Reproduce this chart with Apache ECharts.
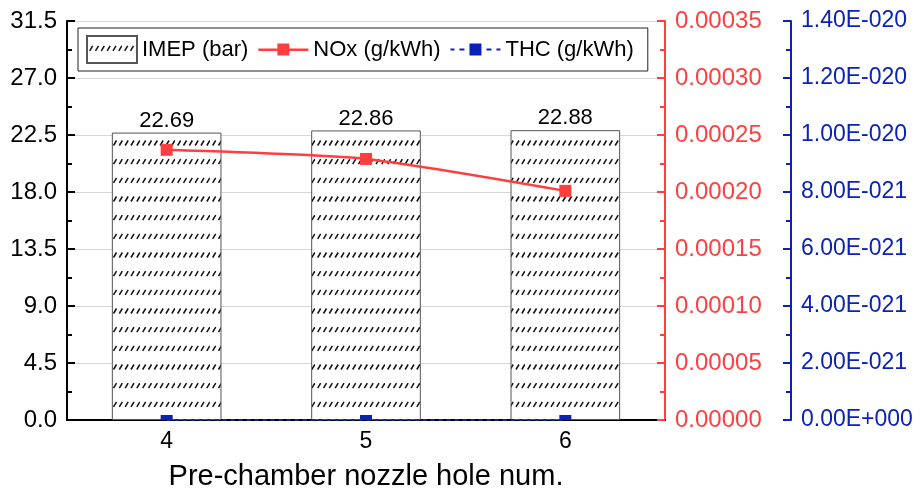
<!DOCTYPE html>
<html>
<head>
<meta charset="utf-8">
<script src="https://cdn.jsdelivr.net/npm/echarts@6/dist/echarts.min.js"></script>
<style>
  html, body { margin: 0; padding: 0; background: #fff; }
  #chart { width: 921px; height: 496px; }
</style>
</head>
<body>
<div id="chart"></div>
<script>
// Nozzle hole counts on the x axis
const categories = ['4', '5', '6'];
// Indicated mean effective pressure, bar
const imep = [22.69, 22.86, 22.88];
// NOx emissions, g/kWh
const nox = [0.000237, 0.000229, 0.000201];
// THC emissions, g/kWh
const thc = [0, 0, 0];
const seriesNames = ['IMEP (bar)', 'NOx (g/kWh)', 'THC (g/kWh)'];
const xTitle = 'Pre-chamber nozzle hole num.';

// THC axis is drawn in units of 1e-21 g/kWh to keep tick rounding stable
const THC_UNIT = 1e-21;

const RED = '#ff3f3f';
const BLUE = '#0a22b8';
const FONT = '"Liberation Sans", Arial, sans-serif';

// White tile with rows of short "/" strokes for the bar fill
function hatchTile() {
  const c = document.createElement('canvas');
  c.width = 35;
  c.height = 56;
  const g = c.getContext('2d');
  g.fillStyle = '#fff';
  g.fillRect(0, 0, c.width, c.height);
  g.strokeStyle = '#111';
  g.lineWidth = 1.5;
  const rows = [12.33, 31, 49.67];
  const step = 35 / 6;
  for (const yc of rows) {
    for (let i = 0; i < 7; i++) {
      const x = 4.17 + i * step;
      g.beginPath();
      g.moveTo(x - 1.5, yc + 2.5);
      g.lineTo(x + 1.5, yc - 2.5);
      g.stroke();
    }
  }
  return c;
}

function sci(v) {
  if (Math.abs(v) < 1e-40) return '0.00E+000';
  const parts = v.toExponential(2).split('e');
  const n = parseInt(parts[1], 10);
  return parts[0] + 'E' + (n < 0 ? '-' : '+') + String(Math.abs(n)).padStart(3, '0');
}

const chart = echarts.init(document.getElementById('chart'), null, { renderer: 'canvas' });

chart.setOption({
  animation: false,
  backgroundColor: '#fff',
  textStyle: { fontFamily: FONT },
  grid: { left: 67, right: 256, top: 21, bottom: 75, containLabel: false },
  legend: {
    left: 78,
    top: 28,
    orient: 'horizontal',
    itemWidth: 50,
    itemHeight: 27,
    itemGap: 10,
    padding: [7, 14, 7, 8],
    borderColor: '#222',
    borderWidth: 1,
    backgroundColor: '#fff',
    selectedMode: false,
    textStyle: { fontFamily: FONT, fontSize: 22, color: '#000' },
    data: [
      { name: seriesNames[0], icon: 'rect' },
      {
        name: seriesNames[1],
        icon: 'path://M0,5H19V7.5H0Z M19,0H31V12H19Z M31,5H50V7.5H31Z',
        itemStyle: { color: RED, borderWidth: 0 }
      },
      {
        name: seriesNames[2],
        icon: 'path://M0,5H4V7H0Z M9,5H14V7H9Z M19,0H31V12H19Z M36,5H41V7H36Z M46,5H50V7H46Z',
        itemStyle: { color: BLUE, borderWidth: 0 }
      }
    ]
  },
  xAxis: [
    {
      type: 'category',
      data: categories,
      position: 'bottom',
      boundaryGap: true,
      axisLine: { show: true, lineStyle: { color: '#000', width: 2 } },
      axisTick: { show: false },
      axisLabel: { color: '#000', margin: 10, fontFamily: FONT, fontSize: 23 },
      name: xTitle,
      nameLocation: 'middle',
      nameGap: 42,
      nameTextStyle: { fontFamily: FONT, fontSize: 29, color: '#000' },
      splitLine: { show: false }
    },
    {
      type: 'category',
      data: categories,
      position: 'top',
      axisLine: { show: true, lineStyle: { color: '#000', width: 2 } },
      axisTick: { show: false },
      axisLabel: { show: false },
      splitLine: { show: false }
    }
  ],
  yAxis: [
    {
      type: 'value',
      position: 'left',
      min: 0,
      max: 31.5,
      interval: 4.5,
      axisLine: { show: true, lineStyle: { color: '#000', width: 2 } },
      axisTick: { show: true, inside: true, length: 8, lineStyle: { color: '#000', width: 2 } },
      minorTick: { show: true, splitNumber: 2, length: 5, lineStyle: { color: '#000', width: 2 } },
      axisLabel: { color: '#000', margin: 10, fontFamily: FONT, fontSize: 24, formatter: v => v.toFixed(1) },
      splitLine: { show: true, lineStyle: { color: '#d6d6d6', width: 1 } }
    },
    {
      type: 'value',
      position: 'right',
      min: 0,
      max: 0.00035,
      interval: 0.00005,
      axisLine: { show: true, lineStyle: { color: RED, width: 2 } },
      axisTick: { show: true, inside: true, length: 8, lineStyle: { color: RED, width: 2 } },
      minorTick: { show: true, splitNumber: 2, length: 5, lineStyle: { color: RED, width: 2 } },
      axisLabel: { color: RED, margin: 10, fontFamily: FONT, fontSize: 24, formatter: v => v.toFixed(5) },
      splitLine: { show: false }
    },
    {
      type: 'value',
      position: 'right',
      offset: 126,
      min: 0,
      max: 14,
      interval: 2,
      axisLine: { show: true, lineStyle: { color: BLUE, width: 2 } },
      axisTick: { show: true, inside: true, length: 8, lineStyle: { color: BLUE, width: 2 } },
      minorTick: { show: true, splitNumber: 2, length: 5, lineStyle: { color: BLUE, width: 2 } },
      axisLabel: { color: BLUE, margin: 10, fontFamily: FONT, fontSize: 23, formatter: v => sci(v * THC_UNIT) },
      splitLine: { show: false }
    }
  ],
  series: [
    {
      name: seriesNames[0],
      type: 'bar',
      xAxisIndex: 0,
      yAxisIndex: 0,
      data: imep,
      barWidth: '55%',
      itemStyle: {
        color: { image: hatchTile(), repeat: 'repeat' },
        borderColor: '#555',
        borderWidth: 1
      },
      label: {
        show: true,
        position: 'top',
        distance: 1,
        color: '#000',
        fontFamily: FONT,
        fontSize: 22,
        formatter: p => p.value.toFixed(2)
      },
      emphasis: { disabled: true },
      z: 2
    },
    {
      name: seriesNames[1],
      type: 'line',
      xAxisIndex: 0,
      yAxisIndex: 1,
      data: nox,
      smooth: 0.2,
      symbol: 'rect',
      symbolSize: 12,
      lineStyle: { color: RED, width: 2.5 },
      itemStyle: { color: RED, borderWidth: 0 },
      emphasis: { disabled: true },
      z: 4
    },
    {
      name: seriesNames[2],
      type: 'line',
      xAxisIndex: 0,
      yAxisIndex: 2,
      data: thc.map(v => v / THC_UNIT),
      symbol: 'path://M0,0H12V5H0Z',
      symbolSize: [12, 5],
      symbolOffset: [0, -2.5],
      lineStyle: { color: BLUE, width: 2, type: [4, 4] },
      itemStyle: { color: BLUE, borderWidth: 0 },
      emphasis: { disabled: true },
      z: 4
    }
  ]
});
</script>
</body>
</html>
